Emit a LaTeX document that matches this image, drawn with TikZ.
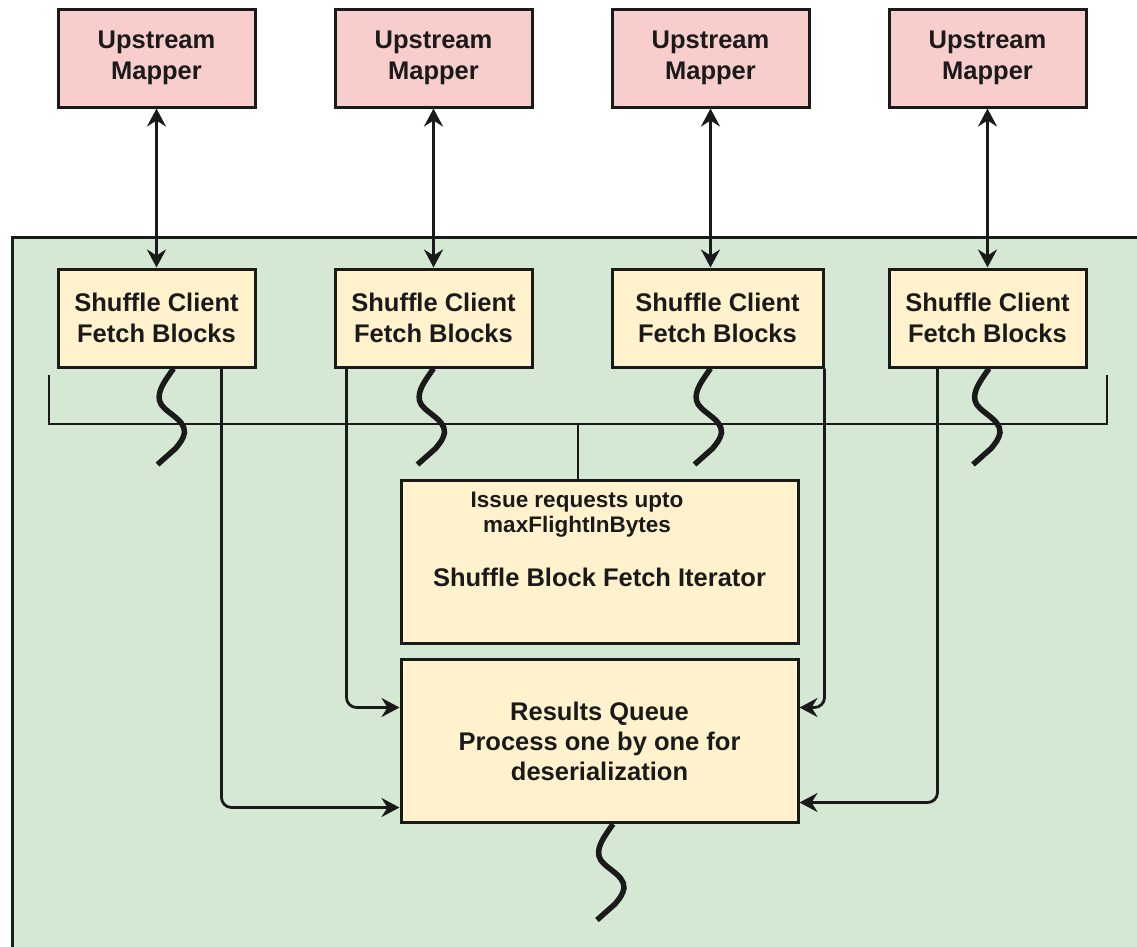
\documentclass[tikz,border=0pt]{standalone}
\usepackage{fontspec}
\setmainfont{Liberation Sans}
\usetikzlibrary{arrows.meta,positioning}
\definecolor{mapperfill}{HTML}{F8CECC}
\definecolor{clientfill}{HTML}{FFF2CC}
\definecolor{execfill}{HTML}{D5E8D4}
\definecolor{ink}{HTML}{1A1A1A}

\begin{document}
\begin{tikzpicture}[
  x=1pt, y=-1pt,
  font=\bfseries\fontsize{25.5}{31}\selectfont,
  >={Stealth[length=18pt,width=19pt,inset=6pt]},
  node distance=159pt and 77pt,
  box/.style={
    draw=ink, line width=3pt, align=center, text=ink,
    inner sep=0pt, minimum width=197pt, minimum height=98pt
  },
  mapper/.style={box, fill=mapperfill},
  client/.style={box, fill=clientfill},
  stage/.style={box, fill=clientfill, minimum width=397pt, minimum height=163pt},
  note/.style={font=\bfseries\fontsize{22.5}{25}\selectfont, align=center, text=ink, inner sep=0pt},
  arr/.style={->, draw=ink, line width=2.8pt, rounded corners=10pt},
  dbl/.style={<->, draw=ink, line width=2.8pt},
  bus/.style={draw=ink, line width=2.8pt},
  pics/brk/.style={code={
    \draw[ink, line width=5.5pt]
      (0,0) .. controls (-9,13) and (-16,22) .. (-14,32)
      .. controls (-12,43) and (12,50) .. (11,64)
      .. controls (10,70) and (7,74) .. (2,80) -- (-16,96);
  }}
]
  \useasboundingbox (0,0) rectangle (1137,946);

  %% executor area
  \begin{scope}
    \clip (0,0) rectangle (1137,946);
    \draw[draw=ink, line width=3pt, fill=execfill] (12,237) rectangle (1170,980);
  \end{scope}

  %% upstream mappers
  \node[mapper] (m1) at (156.5,58) {Upstream\\Mapper};
  \node[mapper, right=of m1] (m2) {Upstream\\Mapper};
  \node[mapper, right=of m2] (m3) {Upstream\\Mapper};
  \node[mapper, right=of m3] (m4) {Upstream\\Mapper};

  %% shuffle clients
  \node[client, below=of m1] (c1) {Shuffle Client\\Fetch Blocks};
  \node[client, below=of m2] (c2) {Shuffle Client\\Fetch Blocks};
  \node[client, minimum width=211pt, below=of m3.south west, anchor=north west] (c3) {Shuffle Client\\Fetch Blocks};
  \node[client, below=of m4] (c4) {Shuffle Client\\Fetch Blocks};
  \draw[dbl] (m1) -- (c1);
  \draw[dbl] (m2) -- (c2);
  \draw[dbl] (m3.south) -- (m3.south |- c3.north);
  \draw[dbl] (m4) -- (c4);

  %% iterator and queue
  \node[stage] (it) at (599.5,561.5) {};
  \node[note] (req) at ([xshift=-22.5pt,yshift=47pt]it.center) {Issue requests upto\\maxFlightInBytes};
  \node[text=ink, inner sep=0pt] (itname) at ([yshift=-15.5pt]it.center) {Shuffle Block Fetch Iterator};
  \node[stage, font=\bfseries\fontsize{25.5}{30}\selectfont, below=13.5pt of it] (rq)
    {Results Queue\\Process one by one for\\deserialization};

  %% request bus
  \coordinate (busL) at (49,375);
  \coordinate (busR) at (1107,375);
  \coordinate (tap) at (578,424);
  \draw[bus] (busL) |- (tap) -| (busR);
  \draw[bus] (tap) -- (tap |- it.north);

  %% fetch results into queue
  \draw[arr] ([xshift=-35pt]c1.south east) |- ([yshift=-66.5pt]rq.west);
  \draw[arr] ([xshift=13pt]c2.south west) |- ([yshift=33.5pt]rq.west);
  \draw[arr] (c3.south east) |- ([yshift=33.5pt]rq.east);
  \draw[arr] ([xshift=50pt]c4.south west) |- ([yshift=-61.5pt]rq.east);

  %% breaks
  \pic at ([xshift=17pt]c1.south) {brk};
  \pic at (c2.south) {brk};
  \pic at ([xshift=-7pt]c3.south) {brk};
  \pic at ([xshift=1.5pt]c4.south) {brk};
  \pic at ([xshift=13.5pt]rq.south) {brk};
\end{tikzpicture}
\end{document}
